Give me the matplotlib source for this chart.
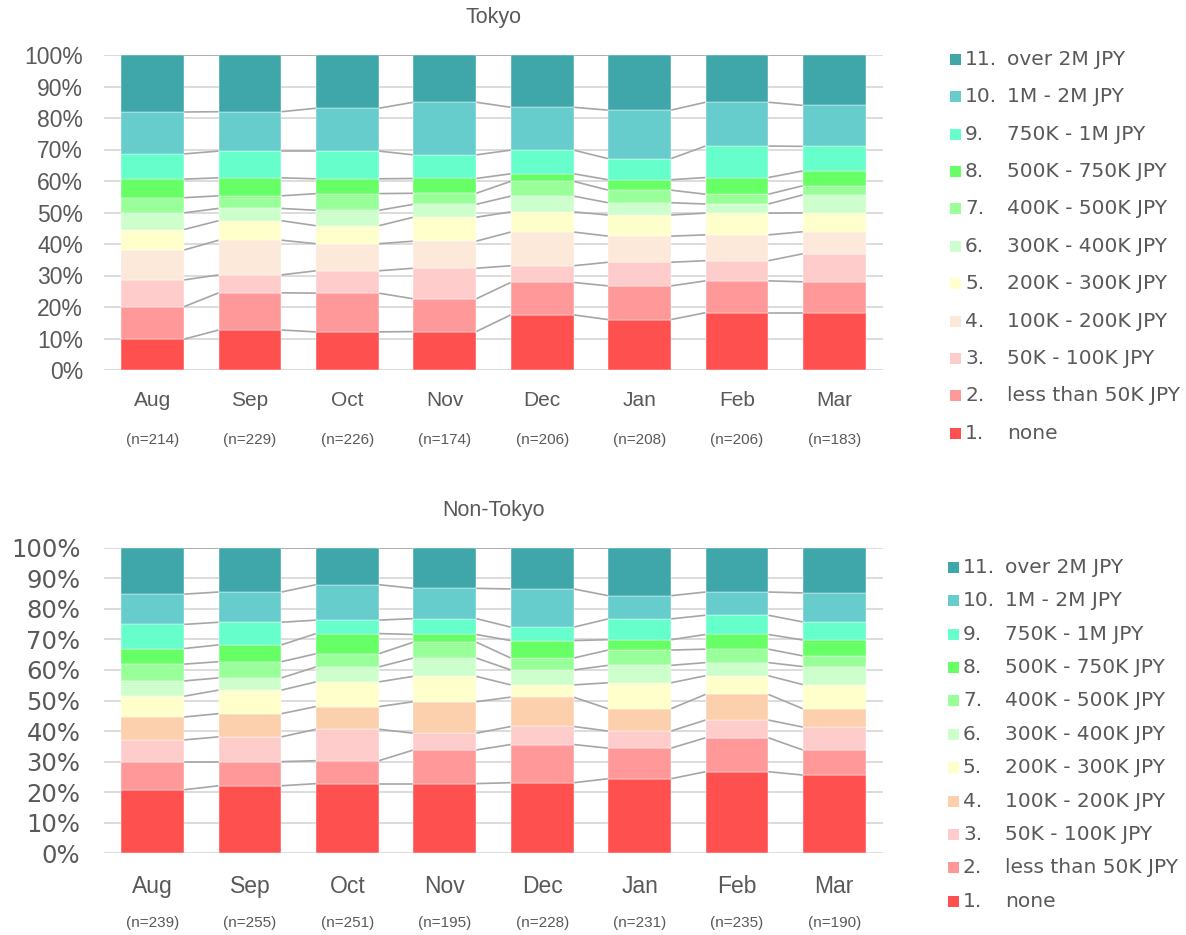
import numpy as np
import matplotlib
matplotlib.use("Agg")
import matplotlib.pyplot as plt
from matplotlib import font_manager
from matplotlib.patches import Rectangle

# ---- data ---------------------------------------------------------------
months = ["Aug", "Sep", "Oct", "Nov", "Dec", "Jan", "Feb", "Mar"]
tokyo_n = [214, 229, 226, 174, 206, 208, 206, 183]
nontokyo_n = [239, 255, 251, 195, 228, 231, 235, 190]

category_labels = [
    ("1.", "none"),
    ("2.", "less than 50K JPY"),
    ("3.", "50K - 100K JPY"),
    ("4.", "100K - 200K JPY"),
    ("5.", "200K - 300K JPY"),
    ("6.", "300K - 400K JPY"),
    ("7.", "400K - 500K JPY"),
    ("8.", "500K - 750K JPY"),
    ("9.", "750K - 1M JPY"),
    ("10.", "1M - 2M JPY"),
    ("11.", "over 2M JPY"),
]

# shares (%) per category (rows, bottom to top) for each month (columns)
tokyo_shares = [
    [9.8, 12.7, 12.1, 12.2, 17.5, 16.0, 18.2, 18.2],   # none
    [10.3, 11.8, 12.3, 10.4, 10.3, 10.7, 10.1, 9.8],   # < 50K
    [8.5, 5.7, 7.1, 9.7, 5.3, 7.5, 6.4, 8.9],          # 50K - 100K
    [9.5, 11.0, 8.6, 8.6, 10.7, 8.3, 8.2, 7.0],        # 100K - 200K
    [6.5, 6.2, 5.7, 7.6, 6.4, 6.7, 6.9, 6.0],          # 200K - 300K
    [5.3, 3.9, 4.9, 4.1, 5.0, 3.9, 2.9, 5.7],          # 300K - 400K
    [4.8, 4.0, 5.3, 3.5, 4.7, 4.0, 3.1, 2.9],          # 400K - 500K
    [5.9, 5.7, 4.7, 4.7, 2.4, 3.3, 5.3, 4.7],          # 500K - 750K
    [8.0, 8.5, 8.8, 7.5, 7.5, 6.7, 10.0, 7.8],         # 750K - 1M
    [13.3, 12.5, 13.6, 16.7, 13.6, 15.4, 13.9, 13.0],  # 1M - 2M
    [18.1, 18.0, 16.9, 15.0, 16.6, 17.5, 15.0, 16.0],  # over 2M
]

nontokyo_shares = [
    [20.8, 22.1, 22.8, 22.8, 23.1, 24.4, 26.7, 25.6],  # none
    [9.2, 7.9, 7.5, 11.0, 12.5, 10.0, 11.1, 8.2],      # < 50K
    [7.1, 8.1, 10.3, 5.5, 5.9, 5.6, 5.8, 7.5],         # 50K - 100K
    [7.5, 7.6, 7.4, 10.3, 9.6, 7.3, 8.4, 6.0],         # 100K - 200K
    [6.8, 7.7, 8.1, 8.3, 4.0, 8.5, 6.1, 7.9],          # 200K - 300K
    [5.0, 4.0, 4.9, 6.0, 4.9, 5.7, 4.3, 5.9],          # 300K - 400K
    [5.5, 5.3, 4.3, 5.2, 3.9, 5.0, 4.4, 3.5],          # 400K - 500K
    [5.1, 5.5, 6.6, 2.5, 5.7, 3.4, 4.8, 5.2],          # 500K - 750K
    [7.9, 7.4, 4.4, 5.2, 4.4, 6.8, 6.3, 5.9],          # 750K - 1M
    [9.9, 9.9, 11.6, 9.9, 12.5, 7.6, 7.6, 9.5],        # 1M - 2M
    [15.2, 14.5, 12.1, 13.3, 13.5, 15.7, 14.5, 14.8],  # over 2M
]

tokyo_colors = ["#FF5050", "#FF9999", "#FFCCCC", "#FDE9D9", "#FFFFCC",
                "#CCFFCC", "#99FF99", "#66FF66", "#66FFCC", "#66CCCC", "#3FA6AA"]
nontokyo_colors = ["#FF5050", "#FF9999", "#FFCCCC", "#FCD0AC", "#FFFFCC",
                   "#CCFFCC", "#99FF99", "#66FF66", "#66FFCC", "#66CCCC", "#3FA6AA"]

# ---- fonts ----------------------------------------------------------------
installed = {f.name for f in font_manager.fontManager.ttflist}


def pick(*names):
    for n in names:
        if n in installed:
            return n
    return "DejaVu Sans"


ARIAL = pick("Liberation Sans", "Arimo", "DejaVu Sans")
NARROW = pick("Liberation Sans Narrow", "Arimo", "Liberation Sans")
VERDANA = "DejaVu Sans"
TXT = "#595959"

W, H = 1186, 935
fig = plt.figure(figsize=(W / 100, H / 100), dpi=100)


def fx(px):
    return px / W


def fy(py):
    return 1 - py / H


def draw_panel(top_px, bottom_px, shares, colors, ns, title, tick_font,
               tick_size, tick_pad, month_font, month_size, month_off, n_off,
               n_size):
    left, right = 104, 883
    ax = fig.add_axes([fx(left), fy(bottom_px), fx(right - left),
                       (bottom_px - top_px) / H])
    shares = np.array(shares)
    x = np.arange(len(months))
    width = 0.645
    bottoms = np.zeros(len(months))
    tops = []
    for k in range(shares.shape[0]):
        ax.bar(x, shares[k], width, bottom=bottoms, color=colors[k],
               edgecolor="white", linewidth=0.3, zorder=3)
        bottoms = bottoms + shares[k]
        tops.append(bottoms.copy())
    # connector lines between adjacent bars
    for t in tops:
        for i in range(len(months) - 1):
            ax.plot([x[i] + width / 2, x[i + 1] - width / 2], [t[i], t[i + 1]],
                    color="#A6A6A6", lw=1.2, zorder=2, solid_capstyle="butt")
    ax.set_xlim(-0.5, len(months) - 0.5)
    ax.set_ylim(0, 100)
    ax.set_yticks(np.arange(0, 101, 10))
    ax.set_yticklabels([f"{v}%" for v in range(0, 101, 10)],
                       fontfamily=tick_font, fontsize=tick_size, color=TXT)
    ax.set_xticks([])
    ax.tick_params(axis="y", length=0, pad=tick_pad)
    for s in ax.spines.values():
        s.set_visible(False)
    ax.grid(axis="y", color="#D9D9D9", lw=1.3, zorder=0)
    ax.set_axisbelow(True)
    ax.patch.set_alpha(0)
    for i, (m, n) in enumerate(zip(months, ns)):
        ax.annotate(m, (x[i], 0), xycoords=("data", "axes fraction"),
                    xytext=(0, -month_off), textcoords="offset pixels",
                    ha="center", va="center", fontfamily=month_font,
                    fontsize=month_size, color=TXT)
        ax.annotate(f"(n={n})", (x[i], 0), xycoords=("data", "axes fraction"),
                    xytext=(0, -n_off), textcoords="offset pixels",
                    ha="center", va="center", fontfamily=NARROW,
                    fontsize=n_size, color=TXT, fontstretch="condensed")
    fig.text(fx(493), fy(top_px - 37), title, ha="center", va="center",
             fontfamily=ARIAL, fontsize=15.5, color=TXT)
    return ax


def draw_legend(first_y, step, sq_x, num_x, lab_x, colors):
    for j, k in enumerate(range(len(category_labels) - 1, -1, -1)):
        y = first_y + j * step
        num, lab = category_labels[k]
        fig.patches.append(Rectangle((fx(sq_x), fy(y + 5.5)), fx(11), 11 / H,
                                     transform=fig.transFigure,
                                     facecolor=colors[k], edgecolor="none"))
        fig.text(fx(num_x), fy(y), num, ha="left", va="center",
                 fontfamily=VERDANA, fontsize=14.5, color=TXT)
        fig.text(fx(lab_x), fy(y), lab, ha="left", va="center",
                 fontfamily=VERDANA, fontsize=14.5, color=TXT)


draw_panel(55, 370, tokyo_shares, tokyo_colors, tokyo_n, "Tokyo",
           ARIAL, 16.5, 15, ARIAL, 15, 30, 70, 11)
draw_panel(547.7, 853.3, nontokyo_shares, nontokyo_colors, nontokyo_n,
           "Non-Tokyo", VERDANA, 17.5, 17, NARROW, 16.5, 33, 70, 11)

draw_legend(59.3, 37.4, 950, 965, 1007, tokyo_colors)
draw_legend(567.3, 33.4, 948, 963, 1005, nontokyo_colors)

fig.savefig("out.png", dpi=100, facecolor="white")
